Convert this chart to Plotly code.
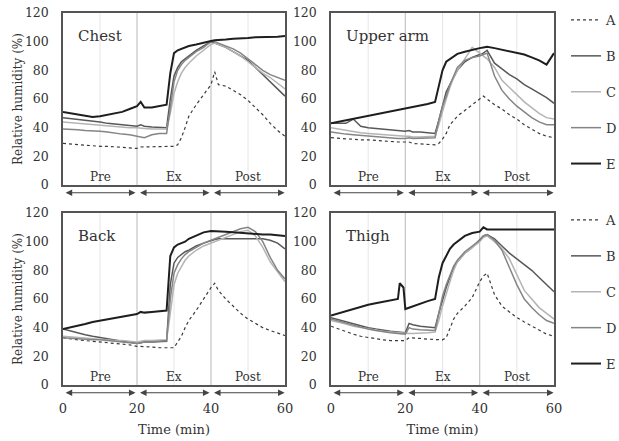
import plotly.graph_objects as go

# ---------------- data ----------------
series_names = ["A", "B", "C", "D", "E"]
panel_titles = ["Chest", "Upper arm", "Back", "Thigh"]
phase_labels = ["Pre", "Ex", "Post"]
phase_centers = [10, 30, 50]
x_ticks = [0, 20, 40, 60]
y_ticks = [0, 20, 40, 60, 80, 100, 120]

chest_t = [0, 2, 4, 6, 8, 10, 12, 14, 16, 18, 20, 21, 22, 24, 26, 28, 29, 30, 31, 32, 33, 34, 36, 38,
           40, 41, 42, 44, 46, 48, 50, 52, 54, 56, 58, 60]
chest_A = [29, 28.5, 28, 27.5, 27, 27, 27, 26.5, 26, 26, 25.5, 26.5, 26.5, 27, 27, 27, 27, 27, 28, 33, 40, 48, 56, 63,
           70, 79, 70, 69, 66, 63, 59, 54, 49, 43, 38, 34]
chest_B = [47, 46.5, 46, 45, 44.5, 44, 43, 42.5, 42, 41.5, 41, 42, 41, 40.5, 40, 40, 60, 76, 82, 86, 88, 90, 94, 97,
           100, 99, 98, 96, 93, 90, 87, 82, 77, 72, 67, 62]
chest_C = [44, 43.5, 43, 42.5, 42, 42, 41.5, 41, 40.5, 40, 40, 40, 39.5, 39, 39, 39, 50, 64, 72, 78, 82, 85, 90, 94,
           98, 99, 98, 96, 93, 90, 86, 82, 78, 75, 71, 67]
chest_D = [39, 39, 38.5, 38, 38, 37.5, 37, 36, 35.5, 35, 34, 33, 33, 35, 36, 36, 55, 72, 80, 84, 87, 89, 93, 96,
           100, 100, 99, 97, 95, 92, 88, 84, 80, 77, 75, 73]
chest_E = [51, 50, 49, 48, 47.5, 48, 49, 50, 51, 53, 55, 58, 54, 54, 55, 56, 78, 92, 94, 95, 96, 97, 98, 99.5,
           100.5, 101, 101, 101.5, 102, 102, 102.5, 103, 103, 103, 103.5, 104]

arm_t = [0, 2, 4, 6, 8, 10, 12, 14, 16, 18, 20, 21, 22, 24, 26, 28, 29, 30, 31, 32, 33, 34, 36, 38,
         40, 41, 42, 44, 46, 48, 50, 52, 54, 56, 58, 60]
arm_A = [33, 32.5, 32, 32, 31.5, 31.5, 31, 30.5, 30.5, 30, 30, 30, 29, 28.5, 28.5, 28, 29, 32, 36, 42, 45, 48, 52, 56,
         60, 62, 60, 56, 53, 49, 46, 42, 39, 36, 34, 33]
arm_B = [43, 43, 43, 46, 41, 40, 39.5, 39, 38.5, 38, 37.5, 38, 37, 37, 36.5, 36, 45, 56, 65, 70, 75, 80, 86, 89,
         91, 92, 94, 85, 81, 77, 74, 70, 67, 64, 61, 57]
arm_C = [40, 39, 38, 37, 36.5, 36, 35.5, 35, 34.5, 34, 34, 34, 33.5, 33.5, 34, 34, 42, 52, 60, 68, 75, 80, 88, 96,
         92, 90, 88, 82, 73, 68, 63, 58, 54, 50, 47, 46]
arm_D = [37, 36, 35.5, 35, 34.5, 34, 33.5, 33, 33, 32.5, 32.5, 33, 32.5, 32.5, 33, 33, 45, 55, 62, 70, 76, 82, 87, 89,
         90, 91, 92, 76, 66, 60, 55, 51, 47, 44, 42, 42]
arm_E = [43, 44, 45, 46, 47, 48.5, 49.5, 50.5, 51.5, 52.5, 53.5, 54, 54.5, 55.5, 56.5, 58, 68, 80, 86, 88, 90, 91.5,
         93, 94.5, 95.5, 96, 96.5, 95.5, 94.5, 93.5, 92.5, 91, 89, 87, 84, 92]

back_t = [0, 2, 4, 6, 8, 10, 12, 14, 16, 18, 20, 21, 22, 24, 26, 28, 29, 30, 31, 32, 33, 34, 36, 38,
          40, 41, 42, 44, 46, 48, 50, 52, 54, 56, 58, 60]
back_A = [33, 32, 31.5, 31, 30.5, 30, 29.5, 29, 28.5, 28, 27, 27, 26.5, 26.5, 26, 26, 26, 26, 30, 34, 40, 45, 52, 60,
          68, 71, 66, 60, 55, 50, 46, 43, 40, 38, 36, 34.5]
back_B = [39, 37.5, 36, 35, 34, 33, 32, 31, 30.5, 30, 29, 29.5, 30, 30, 30.5, 30.5, 70, 85, 89, 91, 93, 94, 97, 99,
          101, 101.5, 102, 102, 102, 102, 102, 102, 102, 101, 99, 95]
back_C = [34, 33.5, 33, 32.5, 32, 32, 31.5, 31, 31, 30.5, 30, 30.5, 31, 31, 31.5, 31.5, 50, 70, 78, 83, 87, 90, 94, 97,
          99, 100, 101, 103, 105, 107, 108, 104, 96, 86, 79, 72]
back_D = [33, 32.5, 32, 32, 31.5, 31.5, 31, 30.5, 30, 29.5, 29, 29.5, 30, 30, 30.5, 31, 60, 78, 84, 88, 91, 93, 96, 99,
          101, 102, 103, 105, 107, 109, 110, 107, 100, 89, 80, 74]
back_E = [39, 40, 41.5, 42.5, 44, 45, 46, 47, 48, 49, 49.5, 51, 50.5, 51, 51.5, 52, 90, 96, 98, 99, 100, 102, 104.5,
          106.5, 107.5, 107.5, 107, 107, 106.5, 106, 106, 105.5, 105, 105, 104.5, 104]

thigh_t = [0, 2, 4, 6, 8, 10, 12, 14, 16, 18, 18.5, 19.5, 20, 21, 22, 24, 26, 28, 29, 30, 31, 32, 33, 34, 36, 38,
           40, 41, 42, 44, 46, 48, 50, 52, 54, 56, 58, 60]
thigh_A = [41, 39, 37, 35.5, 34, 33, 32, 31.5, 31, 31, 31, 31, 31, 33, 33, 32.5, 32, 32, 31.5, 31.5, 33, 40, 46, 50,
           55, 61, 72, 76, 78, 63, 55, 51, 47, 44, 41, 38, 35.5, 34]
thigh_B = [47, 45.5, 44, 42.5, 41, 40, 39, 38, 37.5, 37, 37, 36.5, 36.5, 43, 42, 41, 40.5, 40, 50, 60, 68, 75, 82, 86,
           92, 96, 101, 104, 105, 102, 97, 92, 88, 84, 80, 75, 70, 65]
thigh_C = [45, 44, 42.5, 41, 40, 39, 38, 37.5, 37, 36.5, 36.5, 36, 36, 36, 36, 36, 36.5, 37, 45, 55, 64, 72, 80, 86,
           92, 96, 100, 103, 104, 100, 95, 88, 77, 66, 60, 54, 50, 46]
thigh_D = [46, 44.5, 43, 41.5, 40, 39, 38, 37, 36.5, 36, 36, 35.5, 35.5, 40, 39, 38.5, 38, 38, 50, 62, 70, 77, 83, 87,
           93, 97, 101, 104, 105, 101, 94, 82, 70, 60, 54, 49, 45, 43]
thigh_E = [48.5, 50, 52, 53.5, 55, 56, 57, 58, 59, 60, 71, 68, 53, 54, 55, 57, 58.5, 60, 75, 85, 90, 95, 98, 100,
           104, 106, 107, 110, 108.5, 108.5, 108.5, 108.5, 108.5, 108.5, 108.5, 108.5, 108.5, 108.5]

panels = [
    (chest_t, [chest_A, chest_B, chest_C, chest_D, chest_E]),
    (arm_t, [arm_A, arm_B, arm_C, arm_D, arm_E]),
    (back_t, [back_A, back_B, back_C, back_D, back_E]),
    (thigh_t, [thigh_A, thigh_B, thigh_C, thigh_D, thigh_E]),
]

# ---------------- styling ----------------
FONT = "DejaVu Serif"
TXT = "#333333"
styles = {
    "A": dict(color="#3a3a3a", width=1.2, dash="dot"),
    "B": dict(color="#585858", width=1.5, dash="solid"),
    "C": dict(color="#b4b4b4", width=1.5, dash="solid"),
    "D": dict(color="#858585", width=1.5, dash="solid"),
    "E": dict(color="#1e1e1e", width=2.0, dash="solid"),
}

W, H = 619, 441


def px_dom_x(a, b):
    return [a / W, b / W]


def px_dom_y(top, bottom):
    return [1 - bottom / H, 1 - top / H]


xdoms = [px_dom_x(63, 285), px_dom_x(331, 554), px_dom_x(63, 285), px_dom_x(331, 554)]
ydoms = [px_dom_y(13, 185), px_dom_y(13, 185), px_dom_y(213, 385), px_dom_y(213, 385)]

fig = go.Figure()
shapes = []
annotations = []

for i, (t, ys) in enumerate(panels):
    n = i + 1
    xa = "x" if n == 1 else f"x{n}"
    ya = "y" if n == 1 else f"y{n}"
    for name, y in zip(series_names, ys):
        st = styles[name]
        show = i in (1, 3)
        fig.add_trace(go.Scatter(
            x=t, y=y, mode="lines", name=name,
            line=dict(color=st["color"], width=st["width"], dash=st["dash"]),
            xaxis=xa, yaxis=ya,
            showlegend=show,
            legend="legend" if i == 1 else "legend2",
            legendgroup=f"{name}{i}",
        ))
    # vertical grid every 10 min (phase borders a little darker)
    for xv in (10, 20, 30, 40, 50):
        col = "#c4c4c4" if xv in (20, 40) else "#e6e6e6"
        shapes.append(dict(type="line", xref=xa, yref=f"{ya} domain", x0=xv, x1=xv, y0=0, y1=1,
                           line=dict(color=col, width=1.2 if xv in (20, 40) else 1), layer="below"))
    # panel title
    annotations.append(dict(xref=xa, yref=ya, x=3.5, y=104, text=panel_titles[i], showarrow=False,
                            xanchor="left", yanchor="middle",
                            font=dict(family=FONT, size=15, color=TXT)))
    # phase labels
    for lab, xc in zip(phase_labels, phase_centers):
        annotations.append(dict(xref=xa, yref=ya, x=xc, y=0, text=lab, showarrow=False,
                                xanchor="center", yanchor="bottom", yshift=-1,
                                font=dict(family=FONT, size=12, color=TXT)))
    # phase arrows
    for a0, a1 in ((0.3, 19.6), (20.4, 39.6), (40.4, 59.9)):
        annotations.append(dict(xref=xa, yref=f"{ya} domain", axref=xa, ayref=f"{ya} domain",
                                x=a1, y=-0.045, ax=a0, ay=-0.045, text="", showarrow=True,
                                arrowhead=2, startarrowhead=2, arrowside="end+start",
                                arrowsize=1.1, startarrowsize=1.1, arrowwidth=1.2, arrowcolor="#444"))

leg_common = dict(xanchor="left", yanchor="top", bgcolor="rgba(0,0,0,0)",
                  font=dict(family=FONT, size=13, color=TXT),
                  traceorder="grouped", tracegroupgap=16, itemwidth=30)

layout = dict(
    width=W, height=H,
    margin=dict(l=0, r=0, t=0, b=0, autoexpand=False),
    paper_bgcolor="white", plot_bgcolor="white",
    font=dict(family=FONT, size=13, color=TXT),
    shapes=shapes, annotations=annotations,
    legend=dict(x=566 / W, y=1 - 5 / H, **leg_common),
    legend2=dict(x=566 / W, y=1 - 205 / H, **leg_common),
)

for i in range(4):
    n = i + 1
    xk = "xaxis" if n == 1 else f"xaxis{n}"
    yk = "yaxis" if n == 1 else f"yaxis{n}"
    bottom = i >= 2
    left = i in (0, 2)
    layout[xk] = dict(
        domain=xdoms[i], range=[0, 60], anchor="y" if n == 1 else f"y{n}",
        tickmode="array", tickvals=x_ticks, showticklabels=bottom, ticks="",
        showgrid=False,
        showline=True, mirror=True, linecolor="#555555", linewidth=1.5,
        zeroline=False, ticklabelstandoff=11,
        tickfont=dict(family=FONT, size=13, color=TXT),
        title=dict(text="Time (min)" if bottom else "", font=dict(family=FONT, size=13, color=TXT),
                   standoff=10),
        fixedrange=True,
    )
    layout[yk] = dict(
        domain=ydoms[i], range=[0, 120], anchor="x" if n == 1 else f"x{n}",
        tickmode="array", tickvals=y_ticks, ticks="", showgrid=False,
        showline=True, mirror=True, linecolor="#555555", linewidth=1.5,
        zeroline=False, ticklabelstandoff=10,
        tickfont=dict(family=FONT, size=12.5, color=TXT),
        title=dict(text="Relative humidity (%)" if left else "",
                   font=dict(family=FONT, size=12, color=TXT), standoff=0),
        fixedrange=True,
    )

fig.update_layout(**layout)
fig.write_html("out.html", config={"displayModeBar": False},
               post_script="document.body.style.margin='0px';document.body.style.overflow='hidden';")
